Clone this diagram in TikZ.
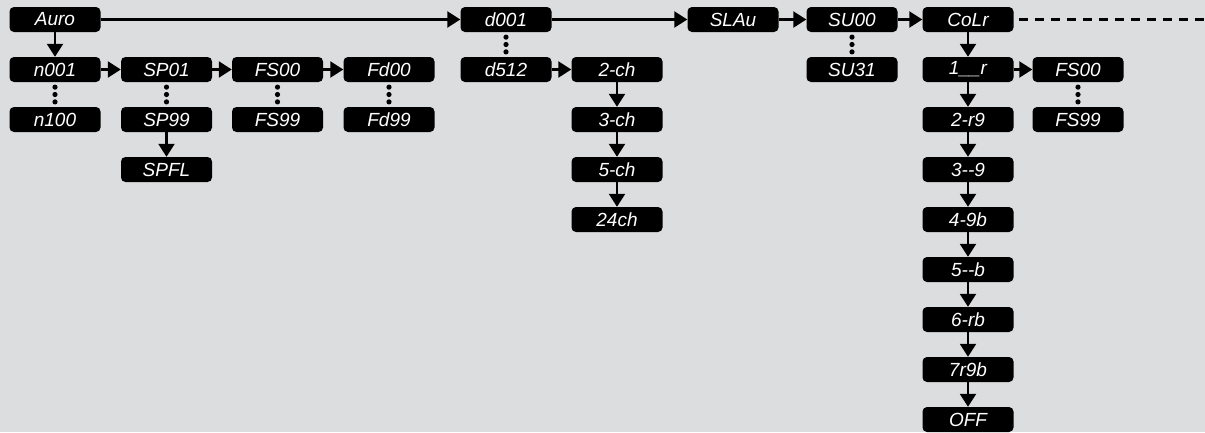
\documentclass[tikz,border=0pt]{standalone}
\usepackage{fontspec}
\setmainfont{Liberation Sans}
\usetikzlibrary{arrows.meta,calc}
\definecolor{bg}{RGB}{220,221,223}
\begin{document}
\begin{tikzpicture}[x=1pt,y=-1pt,
 disp/.style={fill=black, rounded corners=4.5pt, minimum width=91pt, minimum height=25pt, inner sep=0pt, text=white, font=\fontsize{19}{19}\selectfont\itshape},
 arr/.style={line width=2.2pt, -{Triangle[length=13pt,width=16pt]}},
 dashln/.style={line width=2.2pt, dash pattern=on 9pt off 7pt},
 vdot/.style={fill=black}]
\fill[bg] (0,0) rectangle (1205,432);
\useasboundingbox (0,0) rectangle (1205,432);
\newcommand{\dotsbetween}[2]{\foreach \p in {0.2,0.5,0.8} \fill[vdot] ($(#1.south)!\p!(#2.north)$) circle (2.6pt);}
% nodes
\node[disp] (auro) at (55,19.5) {Auro};
\node[disp] (n001) at (55,69.5) {n001};
\node[disp] (n100) at (55,119.5) {n100};
\node[disp] (sp01) at (166.5,69.5) {SP01};
\node[disp] (sp99) at (166.5,119.5) {SP99};
\node[disp] (spfl) at (166.5,169.5) {SPFL};
\node[disp] (fs00) at (277.5,69.5) {FS00};
\node[disp] (fs99) at (277.5,119.5) {FS99};
\node[disp] (fd00) at (389,69.5) {Fd00};
\node[disp] (fd99) at (389,119.5) {Fd99};
\node[disp] (d001) at (506,19.5) {d001};
\node[disp] (d512) at (506,69.5) {d512};
\node[disp] (ch2) at (617,69.5) {2-ch};
\node[disp] (ch3) at (617,119.5) {3-ch};
\node[disp] (ch5) at (617,169.5) {5-ch};
\node[disp] (ch24) at (617,219.5) {24ch};
\node[disp] (slau) at (733,19.5) {SLAu};
\node[disp] (su00) at (852,19.5) {SU00};
\node[disp] (su31) at (852,69.5) {SU31};
\node[disp] (colr) at (968,19.5) {CoLr};
\node[disp] (c1) at (968,69.5) {1\_\_r};
\node[disp] (c2) at (968,119.5) {2-r9};
\node[disp] (c3) at (968,169.5) {3-{}-9};
\node[disp] (c4) at (968,219.5) {4-9b};
\node[disp] (c5) at (968,269.5) {5-{}-b};
\node[disp] (c6) at (968,319.5) {6-rb};
\node[disp] (c7) at (968,369.5) {7r9b};
\node[disp] (c8) at (968,419.5) {OFF};
\node[disp] (gs00) at (1078,69.5) {FS00};
\node[disp] (gs99) at (1078,119.5) {FS99};
\coordinate (dend) at (1205,19.5);
% arrows
\draw[arr] (auro.east) -- (d001.west);
\draw[arr] (d001.east) -- (slau.west);
\draw[arr] (slau.east) -- (su00.west);
\draw[arr] (su00.east) -- (colr.west);
\draw[dashln] (colr.east) ++(5,0) -- (dend);
\draw[arr] (auro.south) -- (n001.north);
\draw[arr] (n001.east) -- (sp01.west);
\draw[arr] (sp01.east) -- (fs00.west);
\draw[arr] (fs00.east) -- (fd00.west);
\draw[arr] (sp99.south) -- (spfl.north);
\draw[arr] (d512.east) -- (ch2.west);
\draw[arr] (ch2.south) -- (ch3.north);
\draw[arr] (ch3.south) -- (ch5.north);
\draw[arr] (ch5.south) -- (ch24.north);
\draw[arr] (colr.south) -- (c1.north);
\draw[arr] (c1.south) -- (c2.north);
\draw[arr] (c2.south) -- (c3.north);
\draw[arr] (c3.south) -- (c4.north);
\draw[arr] (c4.south) -- (c5.north);
\draw[arr] (c5.south) -- (c6.north);
\draw[arr] (c6.south) -- (c7.north);
\draw[arr] (c7.south) -- (c8.north);
\draw[arr] (c1.east) -- (gs00.west);
% dotted continuations
\dotsbetween{n001}{n100}
\dotsbetween{sp01}{sp99}
\dotsbetween{fs00}{fs99}
\dotsbetween{fd00}{fd99}
\dotsbetween{d001}{d512}
\dotsbetween{su00}{su31}
\dotsbetween{gs00}{gs99}
\end{tikzpicture}
\end{document}
